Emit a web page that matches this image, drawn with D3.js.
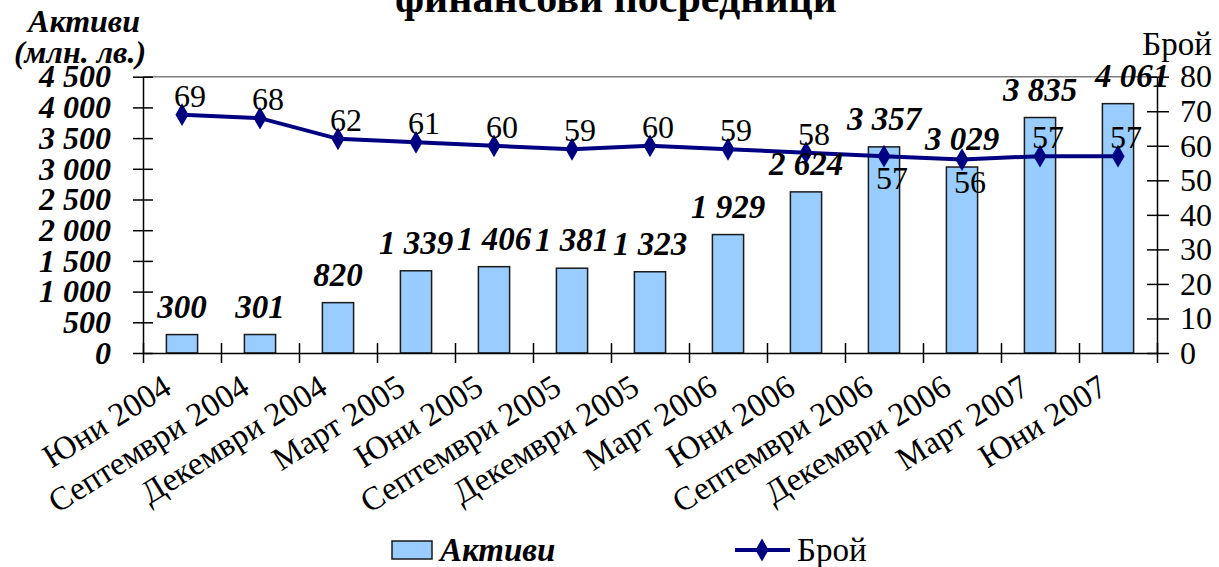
<!DOCTYPE html>
<html><head><meta charset="utf-8">
<script src="https://cdn.jsdelivr.net/npm/d3@7"></script>
</head>
<body style="margin:0;background:#fff"><svg id="c" width="1219" height="567" style="display:block"></svg>
<script>
const categories = ["Юни 2004","Септември 2004","Декември 2004","Март 2005","Юни 2005","Септември 2005","Декември 2005","Март 2006","Юни 2006","Септември 2006","Декември 2006","Март 2007","Юни 2007"];
const assets = [300,301,820,1339,1406,1381,1323,1929,2624,3357,3029,3835,4061];
const counts = [69,68,62,61,60,59,60,59,58,57,56,57,57];
const leftTicks = [0,500,1000,1500,2000,2500,3000,3500,4000,4500];
const rightTicks = [0,10,20,30,40,50,60,70,80];
const countLabelsBelow = [9,10];
const titleText = "финансови посредници";

const FF = '"Liberation Serif"';
const svg = d3.select("#c");
const L = 143, R = 1157, T = 76.7, B = 353;
const loc = d3.formatLocale({decimal:".",thousands:" ",grouping:[3],currency:["",""]});
const fmt = loc.format(",d");

function serif(sel, size, bold, italic){
  sel.style("font-family",FF).style("font-size",size+"px")
     .style("font-weight",bold?"bold":"normal").style("font-style",italic?"italic":"normal").style("fill","#000");
  return sel;
}

const x = d3.scaleBand().domain(categories).range([L,R]).padding(0);
const xi = d3.scaleLinear().domain([0,categories.length]).range([L,R]);
const yL = d3.scaleLinear().domain([0,4500]).range([B,T]);
const yR = d3.scaleLinear().domain([0,80]).range([B,T]);
const bw = x.bandwidth()*0.4;
const cx = (i)=>x(categories[i])+x.bandwidth()/2;

// plot top border
svg.append("line").attr("x1",L).attr("x2",R).attr("y1",T).attr("y2",T).attr("stroke","#808080").attr("stroke-width",1.5);

// bars
svg.append("g").selectAll("rect").data(assets).join("rect")
  .attr("x",(d,i)=>cx(i)-bw/2)
  .attr("y",d=>yL(d)).attr("width",bw).attr("height",d=>B-yL(d))
  .attr("fill","#99CCFF").attr("stroke","#1a1a1a").attr("stroke-width",1.5);

// left axis
const gl = svg.append("g").attr("transform",`translate(${L},0)`)
  .call(d3.axisLeft(yL).tickValues(leftTicks).tickFormat(fmt).tickSizeInner(10).tickSizeOuter(0).tickPadding(22));
gl.selectAll(".tick line").attr("x1",10).attr("stroke","#000").attr("stroke-width",1.5);
gl.select(".domain").attr("stroke","#000").attr("stroke-width",1.5);
serif(gl.selectAll(".tick text"),32,true,true);

// right axis
const gr = svg.append("g").attr("transform",`translate(${R},0)`)
  .call(d3.axisRight(yR).tickValues(rightTicks).tickSizeInner(12).tickSizeOuter(0).tickPadding(11));
gr.selectAll(".tick line").attr("x1",-10).attr("stroke","#000").attr("stroke-width",1.5);
gr.select(".domain").attr("stroke","#000").attr("stroke-width",1.5);
serif(gr.selectAll(".tick text"),32,false,false);

// bottom axis
const gb = svg.append("g").attr("transform",`translate(0,${B})`)
  .call(d3.axisBottom(xi).ticks(categories.length).tickFormat("").tickSizeInner(10).tickSizeOuter(0));
gb.selectAll(".tick line").attr("y1",-10).attr("stroke","#000").attr("stroke-width",1.5);
gb.select(".domain").attr("stroke","#000").attr("stroke-width",1.5);

// category labels
serif(svg.append("g").selectAll("text").data(categories).join("text")
  .attr("transform",(d,i)=>`translate(${cx(i)-21},373) rotate(-32)`)
  .attr("dy","0.7em").attr("text-anchor","end")
  .text(d=>d),33,false,false);

// line
svg.append("path").datum(counts)
  .attr("d",d3.line().x((d,i)=>cx(i)).y(d=>yR(d)))
  .attr("fill","none").attr("stroke","#000080").attr("stroke-width",4);
svg.append("g").selectAll("path").data(counts).join("path")
  .attr("transform",(d,i)=>`translate(${cx(i)},${yR(d)})`)
  .attr("d",d3.symbol().type(d3.symbolDiamond).size(150))
  .attr("fill","#000080");

// bar labels
serif(svg.append("g").selectAll("text").data(assets).join("text")
  .attr("x",(d,i)=>cx(i) + (i===assets.length-1 ? 14 : 0))
  .attr("y",d=>yL(d)-17)
  .attr("text-anchor","middle")
  .text(d=>fmt(d)),33,true,true);

// line labels
serif(svg.append("g").selectAll("text").data(counts).join("text")
  .attr("x",(d,i)=>cx(i)+8)
  .attr("y",(d,i)=>countLabelsBelow.includes(i)? yR(d)+33 : yR(d)-8)
  .attr("text-anchor","middle")
  .text(d=>d),32,false,false);

// titles
serif(svg.append("text").attr("x",616).attr("y",12).attr("text-anchor","middle").text(titleText),42,true,false);
serif(svg.append("text").attr("x",84).attr("y",32).attr("text-anchor","middle").text("Активи"),32,true,true);
serif(svg.append("text").attr("x",80).attr("y",63).attr("text-anchor","middle").text("(млн. лв.)"),32,true,true);
serif(svg.append("text").attr("x",1177).attr("y",55).attr("text-anchor","middle").text("Брой"),33,false,false);

// legend
const lg = svg.append("g");
lg.append("rect").attr("x",392).attr("y",541).attr("width",40).attr("height",18).attr("fill","#99CCFF").attr("stroke","#1a1a1a").attr("stroke-width",1.5);
serif(lg.append("text").attr("x",440).attr("y",561).text("Активи"),33,true,true);
lg.append("line").attr("x1",735).attr("x2",790).attr("y1",550).attr("y2",550).attr("stroke","#000080").attr("stroke-width",4);
lg.append("path").attr("transform","translate(762,550)").attr("d",d3.symbol().type(d3.symbolDiamond).size(150)).attr("fill","#000080");
serif(lg.append("text").attr("x",797).attr("y",561).text("Брой"),33,false,false);
</script></body></html>
